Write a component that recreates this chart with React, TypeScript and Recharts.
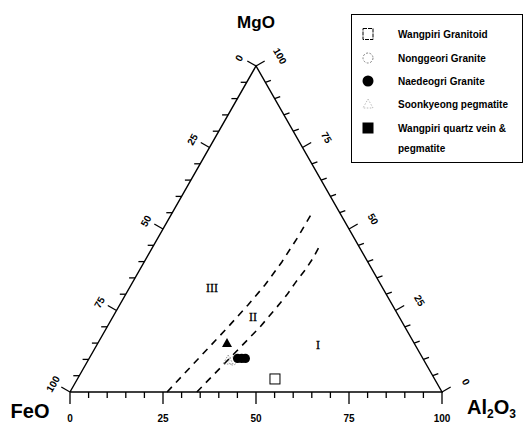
import React from "react";
import { ScatterChart, Scatter, XAxis, YAxis } from "recharts";

// compositions in wt% (FeO, MgO, Al2O3)
const GRANITOID = [{ feo: 42.9, mgo: 4.0, al: 53.1 }];
const NONGGEORI = [{ feo: 51.5, mgo: 9.5, al: 39.0 }];
const NAEDEOGRI = [
  { feo: 49.8, mgo: 10.3, al: 39.9 },
  { feo: 48.7, mgo: 10.3, al: 41.0 },
  { feo: 47.7, mgo: 10.3, al: 42.0 },
];
const SOONKYEONG = [{ feo: 52.6, mgo: 9.8, al: 37.6 }];
const QUARTZ_VEIN = [{ feo: 50.3, mgo: 15.0, al: 34.7 }];

// field boundaries (dashed)
const BOUNDARY_1 = [
  { feo: 73.9, mgo: 0, al: 26.1 },
  { feo: 47.6, mgo: 19.9, al: 32.5 },
  { feo: 38.8, mgo: 26.7, al: 34.5 },
  { feo: 31.2, mgo: 32.8, al: 36.0 },
  { feo: 23.1, mgo: 39.9, al: 37.0 },
  { feo: 15.0, mgo: 47.5, al: 37.5 },
  { feo: 6.9, mgo: 55.5, al: 37.6 },
];
const BOUNDARY_2 = [
  { feo: 65.9, mgo: 0, al: 34.1 },
  { feo: 39.0, mgo: 19.9, al: 41.1 },
  { feo: 31.3, mgo: 26.1, al: 42.6 },
  { feo: 26.8, mgo: 29.8, al: 43.4 },
  { feo: 22.8, mgo: 33.4, al: 43.8 },
  { feo: 18.1, mgo: 37.4, al: 44.5 },
  { feo: 14.1, mgo: 41.1, al: 44.8 },
  { feo: 10.8, mgo: 44.5, al: 44.7 },
];

const FIELD_LABELS = [
  { text: "III", feo: 45.9, mgo: 31.9, al: 22.2 },
  { text: "II", feo: 39.3, mgo: 23.0, al: 37.7 },
  { text: "I", feo: 26.1, mgo: 14.4, al: 59.5 },
];

const CORNERS = [
  { name: "FeO", feo: 100, mgo: 0, al: 0 },
  { name: "MgO", feo: 0, mgo: 100, al: 0 },
  { name: "Al2O3", feo: 0, mgo: 0, al: 100 },
];

const TICK_VALUES = [0, 5, 10, 15, 20, 25, 30, 35, 40, 45, 50, 55, 60, 65, 70, 75, 80, 85, 90, 95, 100];
const TICK_LABELS = [0, 25, 50, 75, 100];

const LEGEND_ITEMS = [
  { label: "Wangpiri Granitoid", symbol: "openSquare" },
  { label: "Nonggeori Granite", symbol: "openCircle" },
  { label: "Naedeogri Granite", symbol: "filledCircle" },
  { label: "Soonkyeong pegmatite", symbol: "openTriangle" },
  { label: "Wangpiri quartz vein &", symbol: "filledSquare" },
  { label: "pegmatite", symbol: "" },
];
const LEGEND_ROWS_Y = [33, 57, 80, 103, 127, 147];

const FONT = "'Liberation Sans', Arial, sans-serif";

// ternary -> cartesian (x along base, y = MgO height)
const tern = (p: any) => ({ ...p, x: p.al + p.mgo / 2, y: p.mgo });
const sidePoint = (side: string, v: number) =>
  side === "bottom"
    ? { feo: 100 - v, mgo: 0, al: v }
    : side === "left"
    ? { feo: v, mgo: 100 - v, al: 0 }
    : { feo: 0, mgo: v, al: 100 - v };

const SIDES = ["bottom", "left", "right"];
const TICKS = SIDES.flatMap(side =>
  TICK_VALUES.map(v => tern({ ...sidePoint(side, v), side, major: v % 25 === 0 }))
);
const LABELS = SIDES.flatMap(side =>
  TICK_LABELS.map(v => tern({ ...sidePoint(side, v), side, value: v }))
);
const FRAME = [CORNERS[0], CORNERS[1], CORNERS[2], CORNERS[0]].map(tern);

const none = () => <g />;

const TickShape = (props: any) => {
  const { cx, cy, payload } = props;
  let dx = 0, dy = 0;
  if (payload.side === "bottom") { dy = payload.major ? 12 : 6; }
  else if (payload.side === "left") {
    if (payload.major) { dx = -8.7; dy = -5; } else { dx = -6; }
  } else {
    if (payload.major) { dx = 8.7; dy = -5; } else { dx = 5.6; dy = -2; }
  }
  return <line x1={cx} y1={cy} x2={cx + dx} y2={cy + dy} stroke="#000" strokeWidth={1.3} />;
};

const TickLabel = (props: any) => {
  const { cx, cy, payload } = props;
  let x = cx, y = cy, rot = 0;
  if (payload.side === "bottom") { y = cy + 26; }
  else if (payload.side === "left") { x = cx - 17; y = cy - 8; rot = -60; }
  else { x = cx + 24; y = cy - 10; rot = 60; }
  return (
    <text x={x} y={y} transform={`rotate(${rot} ${x} ${y})`} textAnchor="middle" dominantBaseline="central"
      fontFamily={FONT} fontSize={10} fontWeight={700} style={{ fill: "#000" }}>
      {payload.value}
    </text>
  );
};

const CornerLabel = (props: any) => {
  const { cx, cy, payload } = props;
  const common = { fontFamily: FONT, fontWeight: 700, style: { fill: "#000" } };
  if (payload.name === "MgO")
    return <text x={cx} y={cy - 38} textAnchor="middle" fontSize={17} {...common}>MgO</text>;
  if (payload.name === "FeO")
    return <text x={cx - 40} y={cy + 26} textAnchor="middle" fontSize={20} {...common}>FeO</text>;
  return (
    <text x={cx + 25} y={cy + 22} fontSize={20} {...common}>
      Al<tspan fontSize={12} dy={4}>2</tspan><tspan dy={-4}>O</tspan><tspan fontSize={12} dy={4}>3</tspan>
    </text>
  );
};

const FieldLabel = (props: any) => (
  <text x={props.cx} y={props.cy} textAnchor="middle" dominantBaseline="central"
    fontFamily="'Liberation Serif', 'Times New Roman', serif" fontSize={12}
    style={{ fill: "#000", stroke: "#000", strokeWidth: 0.3 }}>
    {props.payload.text}
  </text>
);

const OpenSquare = ({ cx, cy }: any) => (
  <rect x={cx - 5} y={cy - 5} width={10} height={10} fill="#fff" stroke="#000" strokeWidth={1} />
);
const FilledCircle = ({ cx, cy }: any) => <circle cx={cx} cy={cy} r={4.6} fill="#000" />;
const OpenCircle = ({ cx, cy }: any) => (
  <circle cx={cx} cy={cy} r={4} fill="none" stroke="#777" strokeWidth={0.8} strokeDasharray="1.5 1.5" />
);
const OpenTriangle = ({ cx, cy }: any) => (
  <polygon points={`${cx},${cy - 5} ${cx + 5},${cy + 4} ${cx - 5},${cy + 4}`} fill="none"
    stroke="#777" strokeWidth={0.8} strokeDasharray="1.5 1.5" />
);
const FilledTriangle = ({ cx, cy }: any) => (
  <polygon points={`${cx},${cy - 5} ${cx + 5},${cy + 4} ${cx - 5},${cy + 4}`} fill="#000" />
);

const LegendSymbol = ({ kind }: { kind: string }) => (
  <svg width={14} height={14} style={{ display: "block" }}>
    {kind === "openSquare" && <rect x={2} y={1.5} width={10} height={11} fill="#fff" stroke="#000" strokeWidth={1} strokeDasharray="4 1" />}
    {kind === "openCircle" && <circle cx={7} cy={7} r={5} fill="none" stroke="#666" strokeWidth={0.8} strokeDasharray="2 1.5" />}
    {kind === "filledCircle" && <circle cx={7} cy={7} r={5.5} fill="#000" />}
    {kind === "openTriangle" && <polygon points="7,2 12,11 2,11" fill="none" stroke="#aaa" strokeWidth={0.8} strokeDasharray="1.5 1.5" />}
    {kind === "filledSquare" && <rect x={1.5} y={1.5} width={11} height={11} fill="#000" />}
  </svg>
);

export default function App() {
  return (
    <div style={{ position: "absolute", left: 0, top: 0, width: 532, height: 428, background: "#fff" }}>
      <ScatterChart width={532} height={428} margin={{ top: 66, right: 90, bottom: 36, left: 70 }}>
        <XAxis type="number" dataKey="x" domain={[0, 100]} hide />
        <YAxis type="number" dataKey="y" domain={[0, 100]} hide />
        <Scatter data={FRAME} line={{ stroke: "#000", strokeWidth: 1.4 }} shape={none} isAnimationActive={false} />
        <Scatter data={TICKS} shape={TickShape} isAnimationActive={false} />
        <Scatter data={LABELS} shape={TickLabel} isAnimationActive={false} />
        <Scatter data={CORNERS.map(tern)} shape={CornerLabel} isAnimationActive={false} />
        <Scatter data={BOUNDARY_1.map(tern)} line={{ stroke: "#000", strokeWidth: 1.6, strokeDasharray: "7 6" }}
          shape={none} isAnimationActive={false} />
        <Scatter data={BOUNDARY_2.map(tern)} line={{ stroke: "#000", strokeWidth: 1.6, strokeDasharray: "7 6" }}
          shape={none} isAnimationActive={false} />
        <Scatter data={FIELD_LABELS.map(tern)} shape={FieldLabel} isAnimationActive={false} />
        <Scatter name="Wangpiri Granitoid" data={GRANITOID.map(tern)} shape={OpenSquare} isAnimationActive={false} />
        <Scatter name="Soonkyeong pegmatite" data={SOONKYEONG.map(tern)} shape={OpenTriangle} isAnimationActive={false} />
        <Scatter name="Nonggeori Granite" data={NONGGEORI.map(tern)} shape={OpenCircle} isAnimationActive={false} />
        <Scatter name="Naedeogri Granite" data={NAEDEOGRI.map(tern)} shape={FilledCircle} isAnimationActive={false} />
        <Scatter name="Wangpiri quartz vein & pegmatite" data={QUARTZ_VEIN.map(tern)} shape={FilledTriangle}
          isAnimationActive={false} />
      </ScatterChart>
      <div style={{ position: "absolute", left: 351, top: 14, width: 170, height: 147, border: "1px solid #000",
        fontFamily: FONT, fontSize: 10, fontWeight: 700, color: "#000" }}>
        {LEGEND_ITEMS.map((it, i) => (
          <div key={i} style={{ position: "absolute", left: 0, top: LEGEND_ROWS_Y[i] - 14 - 8, height: 16,
            display: "flex", alignItems: "center" }}>
            <div style={{ width: 32, display: "flex", justifyContent: "center", paddingLeft: 0 }}>
              {it.symbol && <LegendSymbol kind={it.symbol} />}
            </div>
            <span style={{ whiteSpace: "nowrap", marginLeft: 14 }}>{it.label}</span>
          </div>
        ))}
      </div>
    </div>
  );
}
